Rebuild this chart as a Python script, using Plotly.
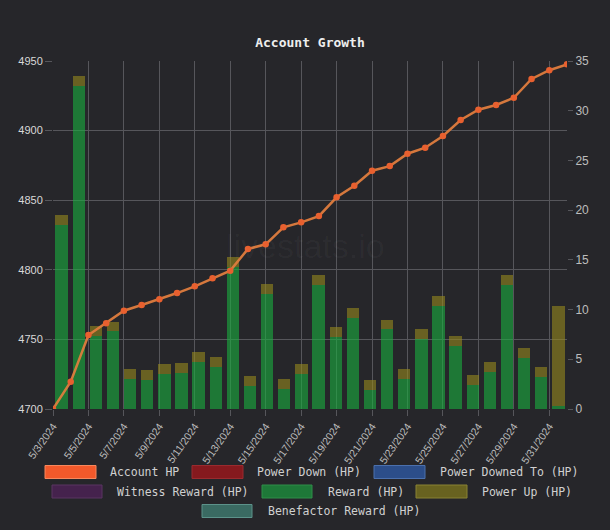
import plotly.graph_objects as go

# ---------------- data ----------------
dates = ["2024-05-%02d" % d for d in range(3, 32)] + ["2024-06-01"]
account_hp = [4700.0, 4719.6, 4753.2, 4761.6, 4770.6, 4774.7, 4778.8, 4783.3, 4788.1, 4793.9,
              4799.4, 4815.0, 4818.3, 4830.5, 4834.1, 4838.6, 4852.1, 4860.4, 4871.2, 4874.5,
              4883.4, 4887.7, 4896.1, 4907.6, 4915.0, 4918.4, 4923.6, 4937.1, 4943.4, 4947.6]
reward_hp = [18.5, 32.5, 7.3, 7.8, 3.0, 2.9, 3.5, 3.6, 4.7, 4.2,
             14.3, 2.3, 11.6, 2.0, 3.5, 12.5, 7.2, 9.2, 1.9, 8.0,
             3.0, 7.0, 10.4, 6.3, 2.4, 3.7, 12.5, 5.1, 3.2, 0.3]
power_up_hp = [1.0, 1.0, 1.0, 1.0, 1.0, 1.0, 1.0, 1.0, 1.0, 1.0,
               1.0, 1.0, 1.0, 1.0, 1.0, 1.0, 1.0, 1.0, 1.0, 1.0,
               1.0, 1.0, 1.0, 1.0, 1.0, 1.0, 1.0, 1.0, 1.0, 10.1]
power_down_hp = [0.0] * 30
power_downed_to_hp = [0.0] * 30
witness_reward_hp = [0.0] * 30
benefactor_reward_hp = [0.0] * 30

series_names = ["Account HP", "Power Down (HP)", "Power Downed To (HP)",
                "Witness Reward (HP)", "Reward (HP)", "Power Up (HP)", "Benefactor Reward (HP)"]

# ---------------- style ----------------
BG = "#26262a"
GRID = "#56565b"
TICKC = "#bdbdbd"
bar_colors = {
    "Power Down (HP)": "rgba(170,20,25,0.6)",
    "Power Downed To (HP)": "rgba(50,100,190,0.6)",
    "Witness Reward (HP)": "rgba(110,40,120,0.6)",
    "Reward (HP)": "rgba(25,175,64,0.6)",
    "Power Up (HP)": "rgba(150,136,30,0.6)",
    "Benefactor Reward (HP)": "rgba(80,160,145,0.6)",
}
legend_fill = {
    "Account HP": ("#f2592b", "#f7875c"),
    "Power Down (HP)": ("#85191e", "#9a2a2e"),
    "Power Downed To (HP)": ("#2c4e8a", "#4b70ad"),
    "Witness Reward (HP)": ("#45224d", "#5a3463"),
    "Reward (HP)": ("#1e7838", "#2f8e49"),
    "Power Up (HP)": ("#686220", "#898233"),
    "Benefactor Reward (HP)": ("#3a6a62", "#5c928a"),
}

fig = go.Figure()

bar_data = [
    ("Power Down (HP)", power_down_hp),
    ("Power Downed To (HP)", power_downed_to_hp),
    ("Witness Reward (HP)", witness_reward_hp),
    ("Reward (HP)", reward_hp),
    ("Power Up (HP)", power_up_hp),
    ("Benefactor Reward (HP)", benefactor_reward_hp),
]
for name, vals in bar_data:
    fig.add_trace(go.Bar(x=dates, y=vals, name=name, xaxis="x", yaxis="y",
                         marker=dict(color=bar_colors[name], line=dict(width=0)),
                         showlegend=False, hoverinfo="skip"))

fig.add_trace(go.Scatter(x=dates, y=account_hp, name="Account HP", xaxis="x2", yaxis="y2",
                         mode="lines+markers",
                         line=dict(color="rgba(222,124,62,0.95)", width=2.5),
                         marker=dict(color="#e8602f", size=6.5),
                         showlegend=False))

L, R, T, B = 53, 43, 61, 121
W, H = 610, 530
PW, PH = W - L - R, H - T - B


def px(xpix):
    return (xpix - L) / PW


def py(ypix):
    return (H - B - ypix) / PH


shapes = []
annotations = []

# custom legend (Chart.js style)
legend_items = [
    ("Account HP", 45, 96, 108, 472),
    ("Power Down (HP)", 192, 243, 255, 472),
    ("Power Downed To (HP)", 374, 425, 438, 472),
    ("Witness Reward (HP)", 52, 102, 115, 491.5),
    ("Reward (HP)", 262, 312, 326, 491.5),
    ("Power Up (HP)", 416, 467, 480, 491.5),
    ("Benefactor Reward (HP)", 202, 252, 266, 511),
]
for name, x0, x1, tx, yc in legend_items:
    fill, edge = legend_fill[name]
    shapes.append(dict(type="rect", xref="paper", yref="paper",
                       x0=px(x0), x1=px(x1), y0=py(yc + 6.5), y1=py(yc - 6.5),
                       fillcolor=fill, line=dict(color=edge, width=1), layer="above"))
    annotations.append(dict(text=name, xref="paper", yref="paper", x=px(tx), y=py(yc),
                            xanchor="left", yanchor="middle", showarrow=False,
                            font=dict(family="DejaVu Sans Mono", size=11.5, color="#d0d0d0")))

# watermark
annotations.append(dict(text="livestats.io", xref="paper", yref="paper", x=px(305), y=py(246),
                        xanchor="center", yanchor="middle", showarrow=False,
                        font=dict(family="Liberation Sans, Arial", size=34,
                                  color="rgba(255,255,255,0.035)")))

fig.update_layout(
    width=W, height=H,
    template="none",
    paper_bgcolor=BG, plot_bgcolor=BG,
    margin=dict(l=L, r=R, t=T, b=B, autoexpand=False),
    barmode="stack", bargap=0.28,
    showlegend=False,
    title=dict(text="<b>Account Growth</b>", x=0.5, xanchor="center", xref="paper",
               y=1 - 42 / H, yanchor="middle", yref="container",
               font=dict(family="DejaVu Sans Mono", size=13, color="#eeeeee")),
    xaxis=dict(type="category", range=[-0.5, 29.5], visible=False, showgrid=False,
               zeroline=False, fixedrange=True),
    yaxis=dict(side="right", range=[0, 35], dtick=5, showgrid=False, zeroline=False,
               showline=False, ticks="outside", ticklen=5, tickcolor=GRID,
               tickfont=dict(family="Liberation Sans, Arial", size=12, color="#bdbdbd")),
    xaxis2=dict(overlaying="x", anchor="y2", type="date",
                range=[dates[0], dates[-1]], tick0=dates[0], dtick=2 * 86400000,
                tickformat="%-m/%-d/%Y", tickangle=-55, showgrid=True, gridcolor=GRID,
                gridwidth=1, zeroline=False, showline=False, ticks="outside", ticklen=6,
                tickcolor=GRID,
                tickfont=dict(family="Liberation Sans, Arial", size=10.5, color=TICKC)),
    yaxis2=dict(overlaying="y", side="left", range=[4700, 4950], dtick=50,
                showgrid=True, gridcolor=GRID, gridwidth=1, zeroline=False, showline=False,
                ticks="outside", ticklen=7, tickcolor=GRID,
                tickfont=dict(family="Liberation Sans, Arial", size=11, color="#d8d8d8")),
    shapes=shapes,
    annotations=annotations,
)

fig.write_html("out.html")
